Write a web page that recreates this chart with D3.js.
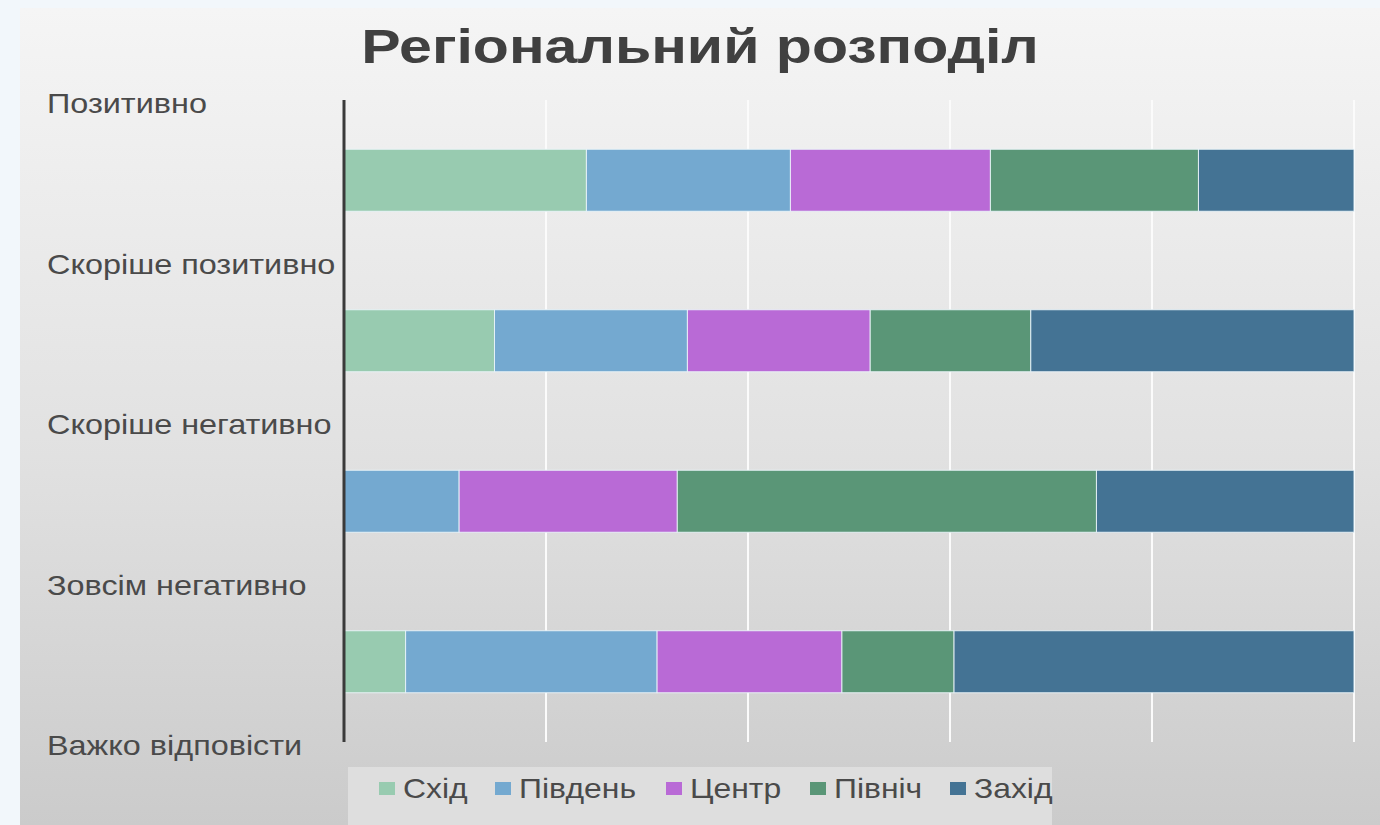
<!DOCTYPE html>
<html>
<head>
<meta charset="utf-8">
<script src="https://cdn.jsdelivr.net/npm/d3@7"></script>
<style>
  body { margin: 0; background: #f2f7fb; }
  svg { display: block; }
</style>
</head>
<body>
<svg id="chart" width="1380" height="825"></svg>
<script>
// categories as printed on the axis (5 labels over 4 bars)
var categories = ["Позитивно", "Скоріше позитивно", "Скоріше негативно", "Зовсім негативно", "Важко відповісти"];
var regions = ["Схід", "Південь", "Центр", "Північ", "Захід"];
var colors = ["#98cbb0", "#74a9d0", "#b96ad6", "#5a9677", "#447394"];

// shares per region, one row per bar (percent)
var east  = [24.0, 14.9, 0.0, 6.1];
var south = [20.2, 19.1, 11.4, 24.9];
var centre = [19.8, 18.1, 21.6, 18.3];
var north = [20.6, 15.9, 41.5, 11.1];
var west  = [15.4, 32.0, 25.5, 39.6];
var xTicks = [0, 20, 40, 60, 80, 100];

var series = [east, south, centre, north, west];
var rows = east.map(function(d, i) {
	var r = { idx: i };
	regions.forEach(function(name, k) { r[name] = series[k][i]; });
	return r;
});

var font = "Liberation Sans, Arial, sans-serif";
var stretch = 1.2;  // the original picture is a bit wider than tall

var svg = d3.select("#chart");
var defs = svg.append("defs");
var grad = defs.append("linearGradient")
	.attr("id", "bg")
	.attr("x1", 0).attr("y1", 0).attr("x2", 0).attr("y2", 1);
grad.append("stop").attr("offset", "0%").attr("stop-color", "#f5f5f5");
grad.append("stop").attr("offset", "55%").attr("stop-color", "#e1e1e1");
grad.append("stop").attr("offset", "100%").attr("stop-color", "#cbcbcb");

svg.append("rect")
	.attr("x", 20).attr("y", 8)
	.attr("width", 1360).attr("height", 817)
	.attr("fill", "url(#bg)");

svg.append("text")
	.attr("transform", "translate(700,63) scale(1.23,1)")
	.attr("text-anchor", "middle")
	.attr("font-family", font)
	.attr("font-weight", "bold")
	.attr("font-size", 48)
	.attr("fill", "#404040")
	.text("Регіональний розподіл");

var x = d3.scaleLinear().domain([0, 100]).range([344, 1354]);
var y = d3.scaleLinear().domain([0, rows.length]).range([100, 742]);
var barH = 62;

// gridlines
svg.append("g")
	.selectAll("line")
	.data(xTicks.slice(1))
	.join("line")
	.attr("x1", function(d) { return x(d); })
	.attr("x2", function(d) { return x(d); })
	.attr("y1", y(0))
	.attr("y2", y(rows.length))
	.attr("stroke", "#fbfbfb")
	.attr("stroke-width", 2);

var stack = d3.stack().keys(regions)(rows);

svg.append("g")
	.selectAll("g")
	.data(stack)
	.join("g")
	.attr("fill", function(d, i) { return colors[i]; })
	.selectAll("rect")
	.data(function(d) { return d; })
	.join("rect")
	.attr("x", function(d) { return x(d[0]); })
	.attr("width", function(d) { return x(d[1]) - x(d[0]); })
	.attr("y", function(d) { return y(d.data.idx + 0.5) - barH / 2; })
	.attr("height", barH)
	.attr("stroke", "rgba(235,245,250,0.9)")
	.attr("stroke-width", function(d) { return d[1] > d[0] ? 1 : 0; });

// category axis line
svg.append("line")
	.attr("x1", 344).attr("x2", 344)
	.attr("y1", y(0)).attr("y2", y(rows.length))
	.attr("stroke", "#3a3a3a")
	.attr("stroke-width", 3);

svg.append("g")
	.selectAll("text")
	.data(categories)
	.join("text")
	.attr("transform", function(d, i) { return "translate(47," + (y(i) + 13) + ") scale(" + stretch + ",1)"; })
	.attr("font-family", font)
	.attr("font-size", 27)
	.attr("fill", "#4a4a4a")
	.text(function(d) { return d; });

// legend
var legend = svg.append("g");
legend.append("rect")
	.attr("x", 348).attr("y", 767)
	.attr("width", 704).attr("height", 58)
	.attr("fill", "#dedede");

var legendX = [379, 495, 666, 810, 950];
var item = legend.selectAll("g.item")
	.data(regions)
	.join("g")
	.attr("class", "item")
	.attr("transform", function(d, i) { return "translate(" + legendX[i] + ",782)"; });
item.append("rect")
	.attr("x", 0).attr("y", 0)
	.attr("width", 16).attr("height", 13)
	.attr("fill", function(d, i) { return colors[i]; });
item.append("text")
	.attr("transform", "translate(24,16) scale(1.18,1)")
	.attr("font-family", font)
	.attr("font-size", 27)
	.attr("fill", "#4a4a4a")
	.text(function(d) { return d; });
</script>
</body>
</html>
